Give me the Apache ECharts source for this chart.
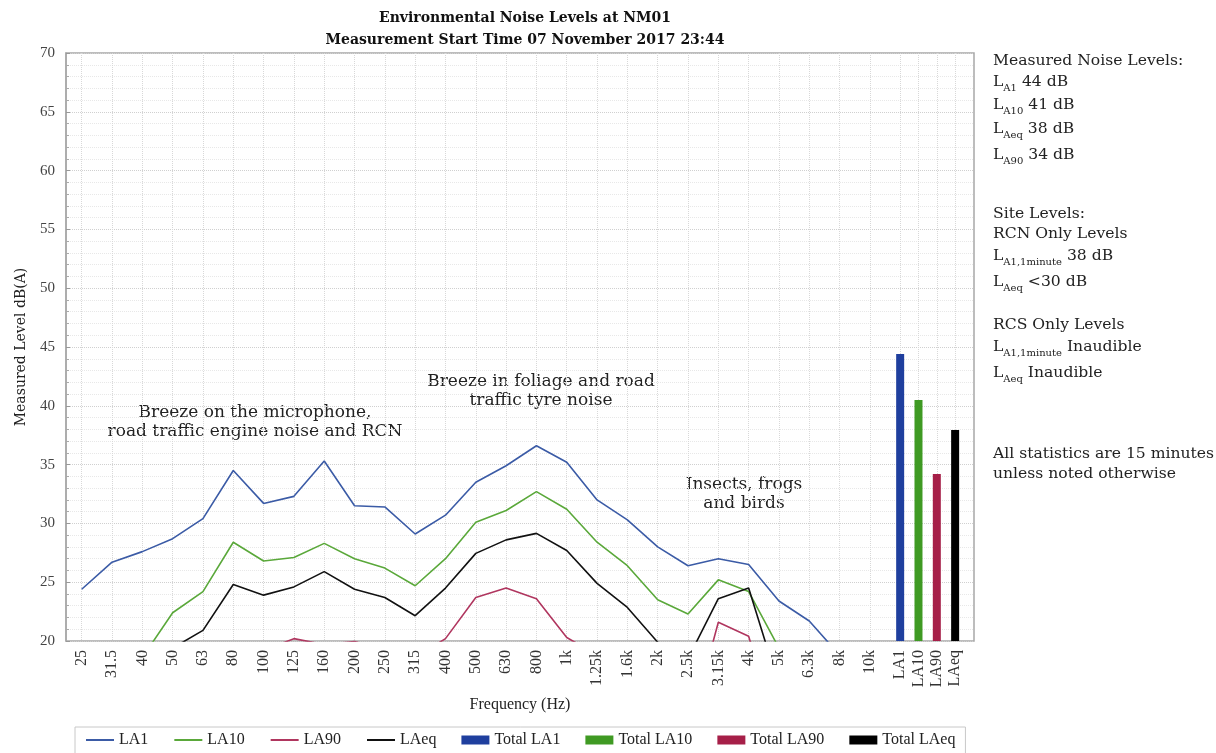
<!DOCTYPE html>
<html><head><meta charset="utf-8">
<script src="https://cdn.jsdelivr.net/npm/echarts@6/dist/echarts.min.js"></script>
<style>html,body{margin:0;padding:0;background:#fff}#c{width:1216px;height:753px}</style>
</head><body><div id="c"></div>
<script>
// ---------------- data ----------------
const freqLabels = ['25','31.5','40','50','63','80','100','125','160','200','250','315','400','500','630','800','1k','1.25k','1.6k','2k','2.5k','3.15k','4k','5k','6.3k','8k','10k'];
const LA1  = [24.4,26.7,27.6,28.7,30.4,34.5,31.7,32.3,35.3,31.5,31.4,29.1,30.7,33.5,34.9,36.6,35.2,32.0,30.3,28.0,26.4,27.0,26.5,23.4,21.7,18.8,18.0];
const LA10 = [17.5,18.0,18.6,22.4,24.2,28.4,26.8,27.1,28.3,27.0,26.2,24.7,27.0,30.1,31.1,32.7,31.2,28.4,26.4,23.5,22.3,25.2,24.2,19.4,18.5,17.5,17.0];
const LA90 = [15.0,15.5,16.0,17.0,17.5,18.5,19.2,20.2,19.7,19.95,19.3,18.6,20.2,23.7,24.5,23.6,20.3,18.8,18.0,17.5,12.0,21.6,20.4,12.0,12.0,12.0,12.0];
const LAeq = [16.0,17.0,18.0,19.4,20.9,24.8,23.9,24.6,25.9,24.4,23.7,22.15,24.5,27.45,28.6,29.15,27.7,24.9,22.85,19.9,18.5,23.6,24.5,16.2,15.0,15.0,15.0];
const totalLabels = ['LA1','LA10','LA90','LAeq'];
const totalValues = [44.4, 40.5, 34.2, 37.95];
const yTicks = {min: 20, max: 70, interval: 5};

const lineNames = ['LA1','LA10','LA90','LAeq'];
const lineData = [LA1, LA10, LA90, LAeq];
const lineColors = ['#3b5ba6','#5aa83a','#b0365f','#111111'];
const barNames = ['Total LA1','Total LA10','Total LA90','Total LAeq'];
const barColors = ['#1f3f9e','#3f9a23','#a61f48','#000000'];

const SERIF = '"DejaVu Serif", serif';
const TIMES = '"Liberation Serif", serif';

const chart = echarts.init(document.getElementById('c'), null, {renderer: 'canvas'});

const series = [];
lineData.forEach((d, i) => {
  series.push({
    name: lineNames[i], type: 'line', xAxisIndex: 1, yAxisIndex: 1,
    data: d, symbol: 'none', showSymbol: false, clip: true, smooth: false,
    lineStyle: {color: lineColors[i], width: 1.6}, itemStyle: {color: lineColors[i]},
    emphasis: {disabled: true}
  });
});
totalValues.forEach((v, i) => {
  series.push({
    name: barNames[i], type: 'bar', xAxisIndex: 2, yAxisIndex: 2,
    data: totalValues.map((w, j) => j === i ? w : '-'),
    barWidth: 8, barGap: '-100%', clip: true,
    itemStyle: {color: barColors[i]}, emphasis: {disabled: true}
  });
});

const sub = {fontSize: 10, lineHeight: 10, verticalAlign: 'bottom', fontFamily: SERIF, fill: '#222'};
function sideText(txt, y) {
  return {type: 'text', x: 993, y: y, silent: true,
    style: {text: txt, font: '15.6px ' + SERIF, fill: '#222', align: 'left', verticalAlign: 'middle',
            lineHeight: 22, rich: {s: sub}}};
}
function note(txt, x, y) {
  return {type: 'text', x: x, y: y, silent: true,
    style: {text: txt, font: '17px ' + SERIF, fill: '#222', align: 'center', verticalAlign: 'middle'}};
}

const legendData = lineNames.map(n => ({name: n, itemStyle: {opacity: 0}}))
  .concat(barNames.map(n => ({name: n, icon: 'rect'})));

const option = {
  animation: false,
  backgroundColor: '#fff',
  title: {
    text: 'Environmental Noise Levels at NM01\nMeasurement Start Time 07 November 2017 23:44',
    left: 520, top: 2, textAlign: 'center',
    textStyle: {fontFamily: SERIF, fontWeight: 'bold', fontSize: 14, color: '#111', lineHeight: 22}
  },
  legend: {
    left: 75, top: 727, padding: [5, 10, 10, 10], itemGap: 25, itemWidth: 28, itemHeight: 9,
    borderColor: '#c8c8c8', borderWidth: 1,
    textStyle: {fontFamily: TIMES, fontSize: 16, color: '#222'},
    data: legendData
  },
  grid: [
    {left: 66, right: 242, top: 53, bottom: 112, show: true, borderColor: '#a8a8a8', borderWidth: 1.5, outerBoundsMode: 'none'},
    {left: 81.7, right: 346.1, top: 53, bottom: 112, outerBoundsMode: 'none'},
    {left: 891, right: 251.7, top: 53, bottom: 112, outerBoundsMode: 'none'}
  ],
  xAxis: [
    {gridIndex: 0, type: 'value', min: 0, max: 1, axisLabel: {show: false}, axisLine: {show: false},
     axisTick: {show: false}, splitLine: {show: false},
     name: 'Frequency (Hz)', nameLocation: 'middle', nameGap: 56,
     nameTextStyle: {fontFamily: TIMES, fontSize: 16, color: '#222'}},
    {gridIndex: 1, type: 'category', data: freqLabels, boundaryGap: false,
     axisLine: {show: false}, axisTick: {show: false},
     axisLabel: {interval: 0, rotate: 90, margin: 9, fontFamily: TIMES, fontSize: 16, color: '#333'},
     splitLine: {show: true, interval: 0, lineStyle: {color: '#d8d8d8', type: 'dotted', width: 1}}},
    {gridIndex: 2, type: 'category', data: totalLabels, boundaryGap: true,
     axisLine: {show: false}, axisTick: {show: false, alignWithLabel: true},
     axisLabel: {interval: 0, rotate: 90, margin: 9, fontFamily: TIMES, fontSize: 16, color: '#333'},
     splitLine: {show: true, interval: 0, alignWithLabel: true, lineStyle: {color: '#d8d8d8', type: 'dotted', width: 1}}}
  ],
  yAxis: [
    {gridIndex: 0, type: 'value', min: yTicks.min, max: yTicks.max, interval: yTicks.interval,
     axisLine: {show: true, lineStyle: {color: '#a8a8a8', width: 1.5}},
     axisTick: {show: true, inside: true, length: 4, lineStyle: {color: '#999'}},
     minorTick: {show: true, splitNumber: 5, length: 3, lineStyle: {color: '#aaa'}},
     axisLabel: {fontFamily: TIMES, fontSize: 15, color: '#444', margin: 11},
     splitLine: {show: true, lineStyle: {color: '#d0d0d0', type: 'dotted', width: 1}},
     minorSplitLine: {show: true, lineStyle: {color: '#e8e8e8', type: 'dotted', width: 1}},
     name: 'Measured Level dB(A)', nameLocation: 'middle', nameGap: 38,
     nameTextStyle: {fontFamily: SERIF, fontSize: 14, color: '#222'}},
    {gridIndex: 1, type: 'value', min: yTicks.min, max: yTicks.max, show: false},
    {gridIndex: 2, type: 'value', min: yTicks.min, max: yTicks.max, show: false}
  ],
  series: series,
  graphic: [
    sideText('Measured Noise Levels:', 61),
    sideText('L{s|A1} 44 dB', 82),
    sideText('L{s|A10} 41 dB', 105),
    sideText('L{s|Aeq} 38 dB', 129),
    sideText('L{s|A90} 34 dB', 155),
    sideText('Site Levels:', 214),
    sideText('RCN Only Levels', 234),
    sideText('L{s|A1,1minute} 38 dB', 256),
    sideText('L{s|Aeq} <30 dB', 282),
    sideText('RCS Only Levels', 325),
    sideText('L{s|A1,1minute} Inaudible', 347),
    sideText('L{s|Aeq} Inaudible', 373),
    sideText('All statistics are 15 minutes', 454),
    sideText('unless noted otherwise', 474),
    note('Breeze on the microphone,', 255, 413),
    note('road traffic engine noise and RCN', 255, 432),
    note('Breeze in foliage and road', 541, 382),
    note('traffic tyre noise', 541, 401),
    note('Insects, frogs', 744, 485),
    note('and birds', 744, 504)
  ]
};
chart.setOption(option);
</script>
</body></html>
